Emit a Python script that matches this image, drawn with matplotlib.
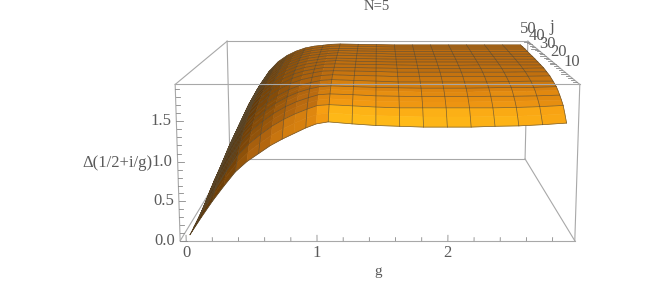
import numpy as np
import matplotlib
matplotlib.use('Agg')
import matplotlib.pyplot as plt
from matplotlib.colors import LinearSegmentedColormap

plt.rcParams['font.family'] = ['Liberation Serif', 'DejaVu Serif']

g_vals = [0.02, 0.11, 0.20, 0.29, 0.38, 0.47, 0.56, 0.65, 0.74, 0.83, 0.92, 1.00, 1.09,
          1.27, 1.45, 1.63, 1.81, 1.99, 2.17, 2.35, 2.53, 2.71, 2.89]
j_vals = [1, 2.53, 4.06, 5.6, 7.13, 8.66, 10.19, 11.72, 13.25, 16.31, 19.38, 22.44, 25.5,
          28.56, 31.63, 34.69, 37.75, 40.81, 43.88, 46.94, 50]
g_mesh = [0.02, 0.20, 0.38, 0.56, 0.74, 0.92, 1.09, 1.27, 1.45, 1.63, 1.81, 1.99, 2.17, 2.35, 2.53, 2.71, 2.89]
j_mesh = [1, 4.06, 7.13, 10.19, 13.25, 16.31, 19.38, 22.44, 25.5, 28.56, 31.63, 34.69, 37.75, 40.81, 43.88, 46.94, 50]

# one row per j, one column per g
delta = [
    [.05, .27, .48, .67, .85, .98, 1.08, 1.18, 1.26, 1.33, 1.40, 1.45, 1.475, 1.45, 1.43, 1.42, 1.41, 1.41, 1.41, 1.42, 1.425, 1.44, 1.46],
    [.05, .30, .53, .74, .925, 1.066, 1.175, 1.279, 1.362, 1.433, 1.497, 1.54, 1.56, 1.54, 1.525, 1.52, 1.51, 1.51, 1.51, 1.52, 1.52, 1.53, 1.55],
    [.06, .34, .59, .80, .999, 1.149, 1.265, 1.371, 1.456, 1.526, 1.584, 1.63, 1.64, 1.625, 1.61, 1.60, 1.60, 1.60, 1.60, 1.60, 1.605, 1.615, 1.63],
    [.06, .36, .62, .85, 1.051, 1.206, 1.324, 1.431, 1.515, 1.584, 1.638, 1.675, 1.69, 1.675, 1.66, 1.655, 1.65, 1.65, 1.65, 1.655, 1.66, 1.665, 1.675],
    [.06, .39, .66, .90, 1.10, 1.26, 1.379, 1.484, 1.567, 1.633, 1.682, 1.72, 1.73, 1.72, 1.705, 1.70, 1.695, 1.695, 1.695, 1.70, 1.70, 1.705, 1.715],
    [.06, .41, .69, .93, 1.141, 1.302, 1.423, 1.528, 1.61, 1.675, 1.721, 1.75, 1.765, 1.75, 1.745, 1.74, 1.73, 1.73, 1.73, 1.74, 1.74, 1.745, 1.75],
    [.07, .43, .72, .97, 1.179, 1.341, 1.462, 1.565, 1.646, 1.708, 1.751, 1.78, 1.79, 1.78, 1.77, 1.765, 1.76, 1.76, 1.76, 1.765, 1.77, 1.77, 1.78],
    [.07, .44, .74, 1.0, 1.21, 1.372, 1.492, 1.593, 1.671, 1.731, 1.771, 1.80, 1.81, 1.80, 1.79, 1.785, 1.78, 1.78, 1.78, 1.785, 1.785, 1.79, 1.795],
    [.07, .46, .77, 1.03, 1.241, 1.403, 1.522, 1.62, 1.697, 1.754, 1.791, 1.82, 1.83, 1.82, 1.81, 1.80, 1.80, 1.80, 1.80, 1.80, 1.805, 1.81, 1.81],
    [.07, .48, .81, 1.08, 1.29, 1.451, 1.569, 1.663, 1.736, 1.788, 1.821, 1.845, 1.855, 1.845, 1.84, 1.83, 1.83, 1.83, 1.83, 1.83, 1.83, 1.835, 1.84],
    [.07, .50, .84, 1.11, 1.326, 1.487, 1.603, 1.693, 1.763, 1.812, 1.842, 1.865, 1.87, 1.865, 1.86, 1.85, 1.85, 1.85, 1.85, 1.85, 1.85, 1.855, 1.855],
    [.07, .52, .86, 1.15, 1.362, 1.52, 1.633, 1.719, 1.784, 1.828, 1.855, 1.875, 1.88, 1.875, 1.87, 1.865, 1.86, 1.86, 1.86, 1.865, 1.865, 1.865, 1.87],
    [.08, .53, .88, 1.17, 1.386, 1.543, 1.653, 1.737, 1.799, 1.841, 1.865, 1.885, 1.89, 1.885, 1.88, 1.875, 1.87, 1.87, 1.87, 1.875, 1.875, 1.875, 1.875],
    [.08, .54, .90, 1.20, 1.41, 1.565, 1.673, 1.753, 1.812, 1.851, 1.873, 1.89, 1.90, 1.89, 1.885, 1.88, 1.88, 1.88, 1.88, 1.88, 1.88, 1.88, 1.88],
    [.08, .55, .92, 1.22, 1.427, 1.581, 1.687, 1.765, 1.822, 1.859, 1.879, 1.895, 1.90, 1.895, 1.89, 1.885, 1.885, 1.885, 1.885, 1.885, 1.885, 1.885, 1.885],
    [.08, .56, .93, 1.23, 1.439, 1.593, 1.698, 1.774, 1.829, 1.865, 1.884, 1.90, 1.905, 1.90, 1.895, 1.89, 1.89, 1.89, 1.89, 1.89, 1.89, 1.89, 1.89],
    [.08, .56, .94, 1.24, 1.451, 1.603, 1.707, 1.781, 1.835, 1.869, 1.887, 1.90, 1.91, 1.90, 1.90, 1.89, 1.89, 1.89, 1.89, 1.89, 1.89, 1.89, 1.89],
    [.08, .57, .95, 1.25, 1.461, 1.614, 1.716, 1.788, 1.841, 1.873, 1.89, 1.905, 1.91, 1.905, 1.90, 1.895, 1.895, 1.895, 1.895, 1.895, 1.895, 1.895, 1.895],
    [.08, .575, .95, 1.26, 1.467, 1.62, 1.722, 1.794, 1.844, 1.876, 1.893, 1.905, 1.91, 1.905, 1.90, 1.90, 1.90, 1.90, 1.90, 1.90, 1.90, 1.90, 1.90],
    [.08, .58, .955, 1.265, 1.474, 1.625, 1.728, 1.797, 1.847, 1.878, 1.894, 1.91, 1.915, 1.91, 1.905, 1.90, 1.90, 1.90, 1.90, 1.90, 1.90, 1.90, 1.90],
    [.08, .58, .96, 1.27, 1.48, 1.63, 1.73, 1.80, 1.85, 1.88, 1.895, 1.91, 1.915, 1.91, 1.905, 1.90, 1.90, 1.90, 1.90, 1.90, 1.90, 1.90, 1.90],
]

g_major = [0, 1, 2]
g_minor = [.2, .4, .6, .8, 1.2, 1.4, 1.6, 1.8, 2.2, 2.4, 2.6, 2.8]
d_major = [0.0, 0.5, 1.0, 1.5]
d_minor = [.1, .2, .3, .4, .6, .7, .8, .9, 1.1, 1.2, 1.3, 1.4, 1.6, 1.7, 1.8, 1.9]
j_major = [10, 20, 30, 40, 50]
j_minor = [2, 4, 6, 8, 12, 14, 16, 18, 22, 24, 26, 28, 32, 34, 36, 38, 42, 44, 46, 48]

xlo, xhi = -0.046, 2.97
ylo, yhi = 0, 51
zlo, zhi = 0, 1.95

G, J = np.meshgrid(g_vals, j_vals)
D = np.array(delta)

# lighting from the cell normals, measured in box units
bx = 2 * (G - xlo) / (xhi - xlo)
by = 2 * (J - ylo) / (yhi - ylo)
bz = 0.8 * (D - zlo) / (zhi - zlo)
d1 = np.stack([bx[1:, 1:] - bx[:-1, :-1], by[1:, 1:] - by[:-1, :-1], bz[1:, 1:] - bz[:-1, :-1]], axis=-1)
d2 = np.stack([bx[:-1, 1:] - bx[1:, :-1], by[:-1, 1:] - by[1:, :-1], bz[:-1, 1:] - bz[1:, :-1]], axis=-1)
n = np.cross(d2, d1)
n = n / np.linalg.norm(n, axis=-1, keepdims=True)
n = n * np.sign(n[..., 2:3])
light = np.array([0.55, -0.75, 0.37])
shade = n @ light
cmap = LinearSegmentedColormap.from_list('orange', [(0, '#4a2a06'), (0.38, '#864c08'), (0.64, '#b8690f'), (0.78, '#de860f'), (0.90, '#f79e12'), (1, '#ffbb18')])
colors = cmap(np.clip((shade + 0.3) / 1.05, 0, 1))

fig = plt.figure(figsize=(6.64, 2.84), dpi=100)
ax = fig.add_axes([127.4 / 664, -93.6 / 284, 487 / 664, 487 / 284], projection='3d')
ax.set_box_aspect((1, 1, 0.4))
ax.set_proj_type('persp', focal_length=0.4376)
ax.view_init(elev=10.4, azim=-90, roll=0)
ax.computed_zorder = False
ax.set_xticks([])
ax.set_yticks([])
ax.set_zticks([])
ax.set_axis_off()

ax.plot_surface(G, J, D, facecolors=colors, rstride=1, cstride=1, shade=False,
                linewidth=0.4, antialiased=True, zorder=2)

# mesh lines only on the mesh rows and columns
mesh_color = '#5a4a30'
for i, v in enumerate(j_vals):
    if v in j_mesh:
        ax.plot(G[i], J[i], D[i], color=mesh_color, lw=0.5, alpha=0.8, zorder=2.5)
for i, v in enumerate(g_vals):
    if v in g_mesh:
        ax.plot(G[:, i], J[:, i], D[:, i], color=mesh_color, lw=0.5, alpha=0.8, zorder=2.5)

box = '#a8a8a8'
lw = 0.8
# hidden side of the box
for xs, ys, zs in [((xlo, xhi), (yhi, yhi), (zlo, zlo)), ((xlo, xlo), (ylo, yhi), (zlo, zlo)),
                   ((xhi, xhi), (ylo, yhi), (zlo, zlo)), ((xlo, xlo), (yhi, yhi), (zlo, zhi)),
                   ((xhi, xhi), (yhi, yhi), (zlo, zhi)), ((xlo, xhi), (yhi, yhi), (zhi, zhi))]:
    ax.plot(xs, ys, zs, color=box, lw=lw, zorder=1)
# front side
for xs, ys, zs in [((xlo, xhi), (ylo, ylo), (zlo, zlo)), ((xlo, xhi), (ylo, ylo), (zhi, zhi)),
                   ((xlo, xlo), (ylo, ylo), (zlo, zhi)), ((xhi, xhi), (ylo, ylo), (zlo, zhi)),
                   ((xlo, xlo), (ylo, yhi), (zhi, zhi)), ((xhi, xhi), (ylo, yhi), (zhi, zhi))]:
    ax.plot(xs, ys, zs, color=box, lw=lw, zorder=3)

tick = '#888888'
for v in g_major + g_minor:
    h = 0.07 if v in g_major else 0.04
    ax.plot((v, v), (ylo, ylo), (zlo, zlo + h), color=tick, lw=0.6, zorder=3)
for v in d_major + d_minor:
    h = 0.05 if v in d_major else 0.03
    ax.plot((xlo, xlo + h), (ylo, ylo), (v, v), color=tick, lw=0.6, zorder=3)
for v in j_major + j_minor:
    h = 0.05 if v in j_major else 0.03
    ax.plot((xhi, xhi - h), (v, v), (zhi, zhi), color=tick, lw=0.6, zorder=3)

txt = '#5a5a5a'
for v in g_major:
    ax.text(v, ylo, -0.16, str(v), ha='center', va='center', color=txt, fontsize=12)
for v in d_major:
    ax.text(xlo - 0.115, ylo, v, f'{v:.1f}', ha='center', va='center', color=txt, fontsize=12)
for v in j_major:
    ax.text(xhi + 0.05, v * 1.15, zhi + 0.13, str(v), ha='center', va='center', color=txt, fontsize=12)
ax.text(3.11, 40, zhi + 0.33, 'j', ha='center', va='center', color=txt, fontsize=12)

ax.set_xlim(xlo, xhi, view_margin=0)
ax.set_ylim(ylo, yhi, view_margin=0)
ax.set_zlim(zlo, zhi, view_margin=0)

fig.text(378 / 664, 1 - 272 / 284, 'g', ha='center', va='center', color=txt, fontsize=11)
fig.text(117.5 / 664, 1 - 163 / 284, 'Δ(1/2+i/g)', ha='center', va='center', color=txt, fontsize=12)
fig.text(377 / 664, 1 - 7 / 284, 'N=5', ha='center', va='center', color=txt, fontsize=10.5)

fig.savefig('out.png', dpi=100)
